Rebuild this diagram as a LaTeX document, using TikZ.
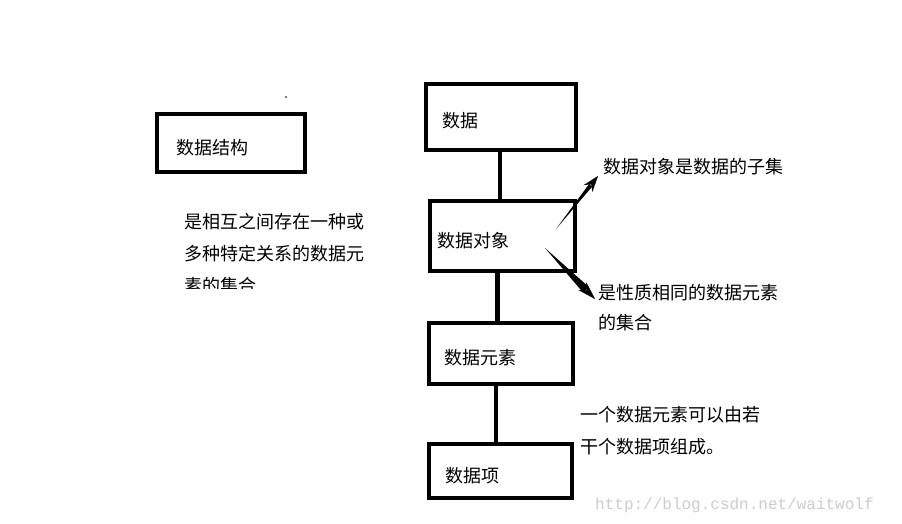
\documentclass[tikz,border=0pt]{standalone}
\usepackage{fontspec}
\setmainfont{Noto Sans CJK SC}
\newfontfamily\markfont{Liberation Mono}
\usetikzlibrary{arrows.meta,calc}
\tikzset{
  box/.style={draw, line width=4pt, align=left, inner xsep=16pt, text height=24pt, text depth=2pt, font=\fontsize{18}{18}\selectfont},
  note/.style={anchor=west, inner sep=0pt, align=left},
  link/.style={line width=4.5pt},
  head/.style={-{Stealth[length=#1,width=11pt]}, line width=0.2pt}
}

\begin{document}
\begin{tikzpicture}[x=1pt, y=-1pt]
  \useasboundingbox (0,0) rectangle (902,524);

  % left: definition
  \node[box, minimum width=148pt, minimum height=58pt, text width=110pt, inner xsep=19pt] (ds) at (231,143) {数据结构};
  \fill (286,97) circle (0.8pt);
  \begin{scope}
    \clip (150,195) rectangle (400,288);
    \node[note, font=\fontsize{18}{32}\selectfont] (def) at (184,254) {是相互之间存在一种或\\多种特定关系的数据元\\素的集合};
  \end{scope}

  % right: hierarchy
  \node[box, minimum width=150pt, minimum height=66pt, text width=118pt] (data) at (501,117) {数据};
  \node[box, minimum width=145pt, minimum height=70pt, text width=131pt, inner xsep=7pt] (obj) at (502.5,236) {数据对象};
  \node[box, minimum width=144pt, minimum height=61pt, text width=114pt, inner xsep=15pt] (elem) at (501,353.5) {数据元素};
  \node[box, minimum width=143pt, minimum height=54pt, text width=111pt] (item) at (500.5,471) {数据项};

  \draw[link] ([xshift=-1pt]data.south) -- ([xshift=-1pt]data.south |- obj.north);
  \draw[link] ([xshift=-5pt]obj.south) -- ([xshift=-5pt]obj.south |- elem.north);
  \draw[link] ([xshift=-5pt]elem.south) -- ([xshift=-5pt]elem.south |- item.north);

  % notes
  \node[note, font=\fontsize{18}{30}\selectfont] (sub) at (603,167) {数据对象是数据的子集};
  \node[note, font=\fontsize{18}{30}\selectfont] (same) at (598,308) {是性质相同的数据元素\\的集合};
  \node[note, font=\fontsize{18}{32}\selectfont] (made) at (580,431) {一个数据元素可以由若\\干个数据项组成。};

  % hand drawn arrows
  \coordinate (up) at (556,229);
  \coordinate (uptip) at (598,176);
  \coordinate (upbase) at ($(uptip)!12pt!(up)$);
  \fill (up) -- ($(upbase)!2pt!90:(uptip)$) -- ($(upbase)!2pt!-90:(uptip)$) -- cycle;
  \draw[head=16pt] (upbase) -- (uptip);

  \coordinate (down) at (545,248);
  \coordinate (downtip) at (595,299);
  \coordinate (downbase) at ($(downtip)!13pt!(down)$);
  \fill (down) -- ($(downbase)!4pt!90:(downtip)$) -- ($(downbase)!4pt!-90:(downtip)$) -- cycle;
  \draw[head=18pt] (downbase) -- (downtip);

  \node[note, text=gray!40, font=\markfont\fontsize{16}{16}\selectfont] (mark) at (595,505) {http://blog.csdn.net/waitwolf};
\end{tikzpicture}
\end{document}
